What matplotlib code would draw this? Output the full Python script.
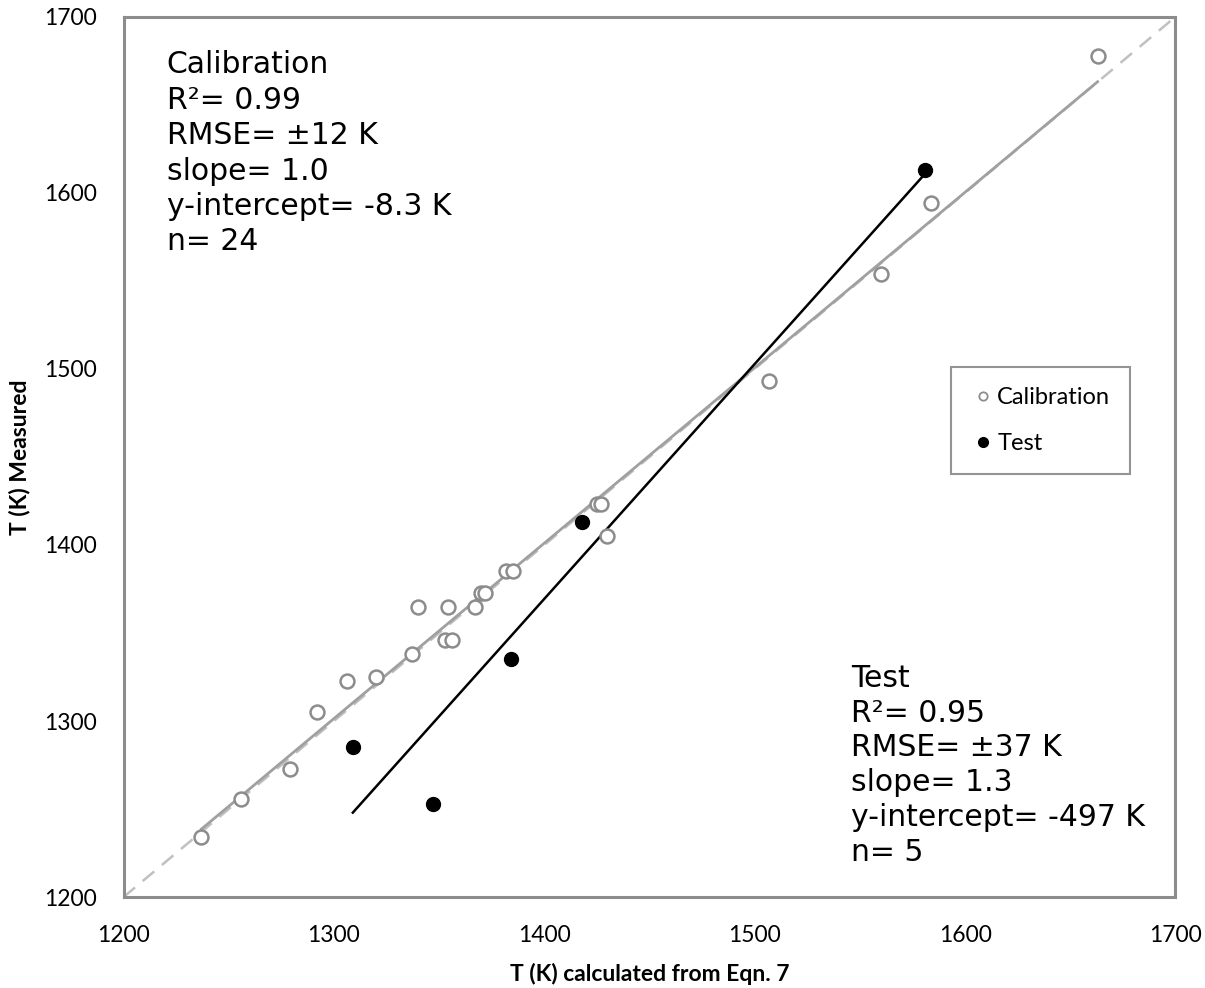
import numpy as np
import matplotlib
matplotlib.use("Agg")
import matplotlib.pyplot as plt
from matplotlib.lines import Line2D

# Calibration set (T from Eqn. 7, T measured)
cal_x = [1237, 1256, 1279, 1292, 1306, 1320, 1337, 1340, 1354, 1367, 1353, 1356,
         1370, 1372, 1382, 1385, 1425, 1427, 1430, 1507, 1560, 1584, 1663]
cal_y = [1234, 1256, 1273, 1305, 1323, 1325, 1338, 1365, 1365, 1365, 1346, 1346,
         1373, 1373, 1385, 1385, 1423, 1423, 1405, 1493, 1554, 1594, 1678]

# Test set
test_x = [1309, 1347, 1384, 1418, 1581]
test_y = [1285, 1253, 1335, 1413, 1613]

cal_text = "Calibration\nR\u00b2= 0.99\nRMSE= \u00b112 K\nslope= 1.0\ny-intercept= -8.3 K\nn= 24"
test_text = "Test\nR\u00b2= 0.95\nRMSE= \u00b137 K\nslope= 1.3\ny-intercept= -497 K\nn= 5"

tick_font = "Lato"
gray = "#8c8c8c"

fig = plt.figure(figsize=(12.05, 9.88), dpi=100)
ax = fig.add_axes([0.1025, 0.092, 0.873, 0.891])

# 1:1 line
ax.plot([1200, 1700], [1200, 1700], color="#c0c0c0", linestyle=(0, (6, 4)), linewidth=1.8, zorder=1)

# fitted lines
cx = np.array(cal_x)
tx = np.array(test_x)
cm, cb = np.polyfit(cx, cal_y, 1)
tm, tb = np.polyfit(tx, test_y, 1)
xs = np.array([cx.min(), cx.max()])
ax.plot(xs, cm * xs + cb, color="#a0a0a0", linewidth=2.0, zorder=2)
xs = np.array([tx.min(), tx.max()])
ax.plot(xs, tm * xs + tb, color="black", linewidth=1.8, zorder=2)

ax.plot(cal_x, cal_y, "o", ms=10, mfc="white", mec=gray, mew=1.8, zorder=3, linestyle="none")
ax.plot(test_x, test_y, "o", ms=10, mfc="black", mec="black", zorder=4, linestyle="none")

ax.set_xlim(1200, 1700)
ax.set_ylim(1200, 1700)
ax.set_xticks([1200, 1300, 1400, 1500, 1600, 1700])
ax.set_yticks([1200, 1300, 1400, 1500, 1600, 1700])
ax.tick_params(axis="x", length=0, pad=20, labelsize=16.5)
ax.tick_params(axis="y", length=0, pad=19, labelsize=16.5)
for lab in ax.get_xticklabels() + ax.get_yticklabels():
    lab.set_fontfamily(tick_font)
for sp in ax.spines.values():
    sp.set_color(gray)
    sp.set_linewidth(2.2)

ax.set_xlabel("T (K) calculated from Eqn. 7", fontsize=16.5, fontweight="bold", family=tick_font, labelpad=12)
ax.set_ylabel("T (K) Measured", fontsize=16.5, fontweight="bold", family=tick_font)
ax.yaxis.set_label_coords(-0.089, 0.5)

ax.text(0.041, 0.962, cal_text, transform=ax.transAxes, fontsize=21.5, va="top", ha="left",
        linespacing=1.28, family="DejaVu Sans")
ax.text(0.692, 0.265, test_text, transform=ax.transAxes, fontsize=21.5, va="top", ha="left",
        linespacing=1.25, family="DejaVu Sans")

handles = [
    Line2D([], [], marker="o", linestyle="none", ms=6, mfc="white", mec=gray, mew=1.3, label="Calibration"),
    Line2D([], [], marker="o", linestyle="none", ms=7, mfc="black", mec="black", label="Test"),
]
leg = ax.legend(handles=handles, loc="upper left", bbox_to_anchor=(0.7755, 0.6155),
                prop={"family": tick_font, "size": 17}, frameon=True, fancybox=False,
                handletextpad=0.1, handlelength=1.0, labelspacing=1.05, borderpad=0.85)
leg.get_frame().set_edgecolor("#7a7a7a")
leg.get_frame().set_linewidth(1.5)

fig.savefig("out.png", dpi=100)
